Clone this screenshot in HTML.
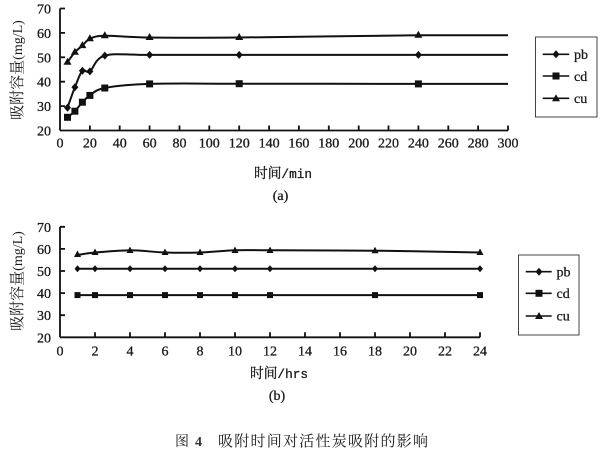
<!DOCTYPE html>
<html><head><meta charset="utf-8"><style>
html,body{margin:0;padding:0;background:#fff;}
svg{display:block;}
.t{font-family:"Liberation Serif",serif;font-size:14px;fill:#1a1a1a;stroke:#1a1a1a;stroke-width:0.3px;}
.c{font-family:"Liberation Sans","Noto Serif CJK SC","Noto Sans CJK SC",sans-serif;fill:#1a1a1a;}
</style></head><body>
<svg width="600" height="450" viewBox="0 0 600 450" xmlns="http://www.w3.org/2000/svg">
<rect width="600" height="450" fill="#fff"/>
<!-- ===== Top chart ===== -->
<g stroke="#111" stroke-width="1.8" fill="none">
<line x1="60" y1="8.5" x2="60" y2="130.5"/>
<line x1="60" y1="130.5" x2="508" y2="130.5"/>
<path d="M60 8.5h5M60 32.9h5M60 57.3h5M60 81.7h5M60 106.1h5"/>
<path d="M89.9 130.5v-5M119.7 130.5v-5M149.6 130.5v-5M179.5 130.5v-5M209.3 130.5v-5M239.2 130.5v-5M269.1 130.5v-5M298.9 130.5v-5M328.8 130.5v-5M358.7 130.5v-5M388.5 130.5v-5M418.4 130.5v-5M448.3 130.5v-5M478.1 130.5v-5M508 130.5v-5"/>
</g>
<g class="t" text-anchor="end">
<text x="51" y="13.5">70</text><text x="51" y="37.9">60</text><text x="51" y="62.3">50</text>
<text x="51" y="86.7">40</text><text x="51" y="111.1">30</text><text x="51" y="135.5">20</text>
</g>
<g class="t" text-anchor="middle">
<text x="60" y="147.7">0</text><text x="89.9" y="147.7">20</text><text x="119.7" y="147.7">40</text>
<text x="149.6" y="147.7">60</text><text x="179.5" y="147.7">80</text><text x="209.3" y="147.7">100</text>
<text x="239.2" y="147.7">120</text><text x="269.1" y="147.7">140</text><text x="298.9" y="147.7">160</text>
<text x="328.8" y="147.7">180</text><text x="358.7" y="147.7">200</text><text x="388.5" y="147.7">220</text>
<text x="418.4" y="147.7">240</text><text x="448.3" y="147.7">260</text><text x="478.1" y="147.7">280</text>
<text x="508" y="147.7">300</text>
</g>
<g stroke="#111" stroke-width="2" fill="none">
<path d="M67.5 107.8C68.7 104.4 72.4 93.5 74.9 87.3C77.4 81.1 79.9 73.35 82.4 70.7C84.9 68.05 86.2 73.9 89.9 71.4C93.6 68.9 94.85 58.35 104.8 55.6C114.75 52.85 127.2 55.0 149.6 54.9L508 54.9"/>
<path d="M67.5 117.3C68.7 116.3 72.4 113.7 74.9 111.2C77.4 108.7 79.9 104.8 82.4 102.2C84.9 99.6 86.2 97.8 89.9 95.4C93.6 93.0 94.85 89.9 104.8 88.0C114.75 86.1 127.2 84.6 149.6 83.9C172 83.2 194.4 83.7 239.2 83.7C284 83.7 373.6 83.9 418.4 83.9L508 83.9"/>
<path d="M67.5 62.2C68.7 60.5 72.4 55.0 74.9 52.2C77.4 49.4 79.9 47.8 82.4 45.6C84.9 43.4 86.2 40.4 89.9 38.8C93.6 37.2 94.85 36.0 104.8 35.8C114.75 35.6 127.2 37.2 149.6 37.5C172 37.8 194.4 37.9 239.2 37.5C284 37.1 373.6 35.7 418.4 35.3L508 35.3"/>
</g>
<g fill="#111">
<path d="M67.5 103.8l3.5 4-3.5 4-3.5-4z"/><path d="M74.9 83.3l3.5 4-3.5 4-3.5-4z"/>
<path d="M82.4 66.7l3.5 4-3.5 4-3.5-4z"/><path d="M89.9 67.4l3.5 4-3.5 4-3.5-4z"/>
<path d="M104.8 51.6l3.5 4-3.5 4-3.5-4z"/><path d="M149.6 50.9l3.5 4-3.5 4-3.5-4z"/>
<path d="M239.2 50.9l3.5 4-3.5 4-3.5-4z"/><path d="M418.4 50.9l3.5 4-3.5 4-3.5-4z"/>
<rect x="64" y="113.8" width="7" height="7"/><rect x="71.4" y="107.7" width="7" height="7"/>
<rect x="78.9" y="98.7" width="7" height="7"/><rect x="86.4" y="91.9" width="7" height="7"/>
<rect x="101.3" y="84.5" width="7" height="7"/><rect x="146.1" y="80.4" width="7" height="7"/>
<rect x="235.7" y="80.2" width="7" height="7"/><rect x="414.9" y="80.4" width="7" height="7"/>
<path d="M67.5 57.7l4 7h-8z"/><path d="M74.9 47.7l4 7h-8z"/><path d="M82.4 41.1l4 7h-8z"/>
<path d="M89.9 34.3l4 7h-8z"/><path d="M104.8 31.3l4 7h-8z"/><path d="M149.6 33l4 7h-8z"/>
<path d="M239.2 33l4 7h-8z"/><path d="M418.4 30.8l4 7h-8z"/>
</g>
<!-- legend top -->
<rect x="535.5" y="37" width="61.5" height="80" fill="none" stroke="#444" stroke-width="1"/>
<g stroke="#111" stroke-width="1.6"><line x1="542.7" y1="54.3" x2="569.3" y2="54.3"/><line x1="542.7" y1="76" x2="569.3" y2="76"/><line x1="542.7" y1="98.3" x2="569.3" y2="98.3"/></g>
<g fill="#111"><path d="M556 50.3l3.5 4-3.5 4-3.5-4z"/><rect x="552.5" y="72.5" width="7" height="7"/><path d="M556 94.3l4 7h-8z"/></g>
<g class="t"><text x="574" y="59">pb</text><text x="574" y="81">cd</text><text x="574" y="103">cu</text></g>
<text class="c" transform="translate(22 70) rotate(-90)" text-anchor="middle" font-size="15"><tspan>吸附容量</tspan><tspan font-family="Liberation Serif,serif" font-size="14">(mg/L)</tspan></text>
<text class="c" x="254" y="178" font-size="14" textLength="58" lengthAdjust="spacingAndGlyphs" stroke="#1a1a1a" stroke-width="0.3">时间<tspan font-family="Liberation Mono,monospace" font-size="13">/min</tspan></text>
<text class="t" x="280.5" y="200" text-anchor="middle">(a)</text>

<!-- ===== Bottom chart ===== -->
<g stroke="#111" stroke-width="1.8" fill="none">
<line x1="60" y1="226.8" x2="60" y2="337.3"/>
<line x1="60" y1="337.3" x2="480" y2="337.3"/>
<path d="M60 226.8h5M60 248.9h5M60 271h5M60 293.1h5M60 315.2h5"/>
<path d="M95 337.3v-5M130 337.3v-5M165 337.3v-5M200 337.3v-5M235 337.3v-5M270 337.3v-5M305 337.3v-5M340 337.3v-5M375 337.3v-5M410 337.3v-5M445 337.3v-5M480 337.3v-5"/>
</g>
<g class="t" text-anchor="end">
<text x="51" y="231.8">70</text><text x="51" y="253.9">60</text><text x="51" y="276">50</text>
<text x="51" y="298.1">40</text><text x="51" y="320.2">30</text><text x="51" y="342.3">20</text>
</g>
<g class="t" text-anchor="middle">
<text x="60" y="355.7">0</text><text x="95" y="355.7">2</text><text x="130" y="355.7">4</text>
<text x="165" y="355.7">6</text><text x="200" y="355.7">8</text><text x="235" y="355.7">10</text>
<text x="270" y="355.7">12</text><text x="305" y="355.7">14</text><text x="340" y="355.7">16</text>
<text x="375" y="355.7">18</text><text x="410" y="355.7">20</text><text x="445" y="355.7">22</text>
<text x="480" y="355.7">24</text>
</g>
<g stroke="#111" stroke-width="2" fill="none">
<line x1="77.5" y1="268.8" x2="480" y2="268.8"/>
<line x1="77.5" y1="295.1" x2="480" y2="295.1"/>
<path d="M77.5 255C80.4 254.6 86.25 253.3 95 252.5C103.75 251.7 118.3 250.3 130 250.3C141.7 250.3 153.3 252.1 165 252.5C176.7 252.9 188.3 252.9 200 252.5C211.7 252.1 223.3 250.7 235 250.3C246.7 249.9 246.7 250.2 270 250.3C293.3 250.4 340 250.3 375 250.7C410 251.1 462.5 252.2 480 252.5"/>
</g>
<g fill="#111">
<path d="M77.5 265.3l3 3.5-3 3.5-3-3.5z"/><path d="M95 265.3l3 3.5-3 3.5-3-3.5z"/><path d="M130 265.3l3 3.5-3 3.5-3-3.5z"/>
<path d="M165 265.3l3 3.5-3 3.5-3-3.5z"/><path d="M200 265.3l3 3.5-3 3.5-3-3.5z"/><path d="M235 265.3l3 3.5-3 3.5-3-3.5z"/>
<path d="M270 265.3l3 3.5-3 3.5-3-3.5z"/><path d="M375 265.3l3 3.5-3 3.5-3-3.5z"/><path d="M480 265.3l3 3.5-3 3.5-3-3.5z"/>
<rect x="74.5" y="292.1" width="6" height="6"/><rect x="92" y="292.1" width="6" height="6"/><rect x="127" y="292.1" width="6" height="6"/>
<rect x="162" y="292.1" width="6" height="6"/><rect x="197" y="292.1" width="6" height="6"/><rect x="232" y="292.1" width="6" height="6"/>
<rect x="267" y="292.1" width="6" height="6"/><rect x="372" y="292.1" width="6" height="6"/><rect x="477" y="292.1" width="6" height="6"/>
<path d="M77.5 250.5l3.5 6.5h-7z"/><path d="M95 248.5l3.5 6.5h-7z"/><path d="M130 246.5l3.5 6.5h-7z"/>
<path d="M165 248.5l3.5 6.5h-7z"/><path d="M200 248.5l3.5 6.5h-7z"/><path d="M235 246.5l3.5 6.5h-7z"/>
<path d="M270 246.5l3.5 6.5h-7z"/><path d="M375 246.7l3.5 6.5h-7z"/><path d="M480 248.5l3.5 6.5h-7z"/>
</g>
<!-- legend bottom -->
<rect x="518.5" y="255" width="60.5" height="80" fill="none" stroke="#444" stroke-width="1"/>
<g stroke="#111" stroke-width="1.6"><line x1="525.7" y1="271.7" x2="551.7" y2="271.7"/><line x1="525.7" y1="293.3" x2="551.7" y2="293.3"/><line x1="525.7" y1="316" x2="551.7" y2="316"/></g>
<g fill="#111"><path d="M539 267.7l3.5 4-3.5 4-3.5-4z"/><rect x="535.5" y="289.8" width="7" height="7"/><path d="M539 312l4 7h-8z"/></g>
<g class="t"><text x="556.5" y="276.5">pb</text><text x="556.5" y="298">cd</text><text x="556.5" y="320.5">cu</text></g>
<text class="c" transform="translate(22 281) rotate(-90)" text-anchor="middle" font-size="15"><tspan>吸附容量</tspan><tspan font-family="Liberation Serif,serif" font-size="14">(mg/L)</tspan></text>
<text class="c" x="250" y="378" font-size="14" textLength="58" lengthAdjust="spacingAndGlyphs" stroke="#1a1a1a" stroke-width="0.3">时间<tspan font-family="Liberation Mono,monospace" font-size="13">/hrs</tspan></text>
<text class="t" x="277" y="400" text-anchor="middle">(b)</text>

<!-- caption -->
<text class="c" x="175" y="446" font-size="14" fill="#333">图</text>
<text x="195" y="446" font-family="Liberation Serif,serif" font-size="14" font-weight="bold" fill="#333">4</text>
<text class="c" x="218" y="446" font-size="15" fill="#333" textLength="210" lengthAdjust="spacing">吸附时间对活性炭吸附的影响</text>
</svg>
</body></html>
